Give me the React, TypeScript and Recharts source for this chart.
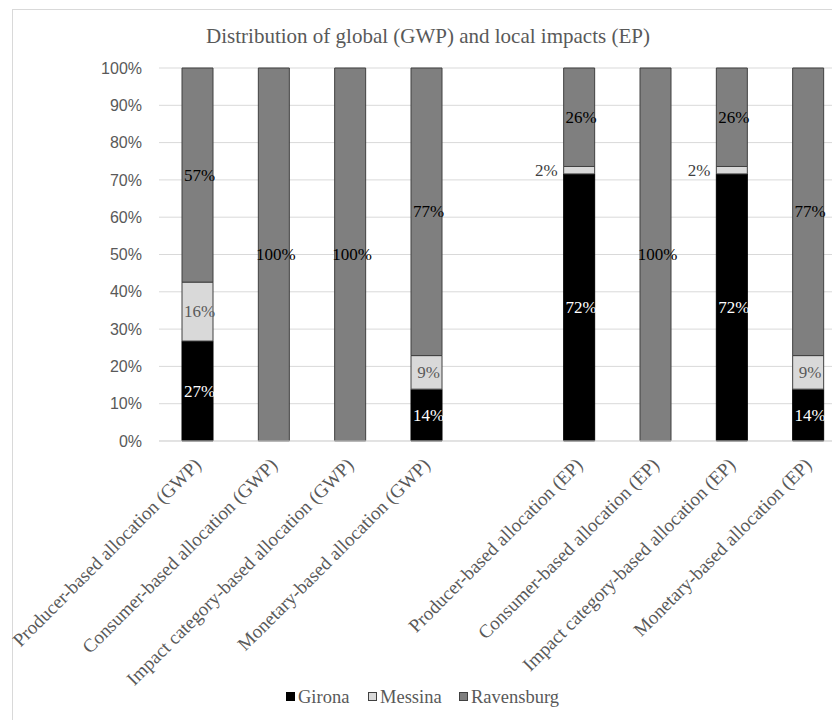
import React from "react";
import { Bar, BarChart, CartesianGrid, LabelList, Legend, XAxis, YAxis } from "recharts";

// categories along the x axis (one empty slot separates the GWP and EP groups)
const categories = [
  "Producer-based allocation (GWP)",
  "Consumer-based allocation (GWP)",
  "Impact category-based allocation (GWP)",
  "Monetary-based allocation (GWP)",
  "",
  "Producer-based allocation (EP)",
  "Consumer-based allocation (EP)",
  "Impact category-based allocation (EP)",
  "Monetary-based allocation (EP)",
];

// shares in percent
const girona = [26.8, 0, 0, 13.9, null, 71.6, 0, 71.6, 13.9];
const messina = [15.8, 0, 0, 9.0, null, 2.0, 0, 2.0, 9.0];
const ravensburg = [57.4, 100, 100, 77.1, null, 26.4, 100, 26.4, 77.1];

const yTicks = [0, 10, 20, 30, 40, 50, 60, 70, 80, 90, 100];

const title = "Distribution of global (GWP) and local impacts (EP)";

const data = categories.map((name, i) => ({
  name,
  Girona: girona[i],
  Messina: messina[i],
  Ravensburg: ravensburg[i],
}));

const series = [
  { key: "Girona", fill: "#000000", stroke: "#000000", labelColor: "#ffffff" },
  { key: "Messina", fill: "#d9d9d9", stroke: "#404040", labelColor: "#595959" },
  { key: "Ravensburg", fill: "#7f7f7f", stroke: "#404040", labelColor: "#000000" },
];

const serif = "Liberation Serif, Times New Roman, serif";

function makeLabel(color: string) {
  return (props: any) => {
    const { x, y, width, height, value } = props;
    if (value == null || value === 0) return null;
    const text = `${Math.round(value)}%`;
    // thin slices get their label to the left of the bar
    if (height < 14) {
      return (
        <text x={x - 6} y={y + height / 2} textAnchor="end" dominantBaseline="central"
          fontFamily={serif} fontSize={17} fill="#404040">{text}</text>
      );
    }
    return (
      <text x={x + width / 2 + 2} y={y + height / 2} textAnchor="middle" dominantBaseline="central"
        fontFamily={serif} fontSize={17} fill={color}>{text}</text>
    );
  };
}

const XTick = (props: any) => {
  const { x, y, payload } = props;
  const tx = x + 5;
  const ty = y + 23;
  return (
    <text x={tx} y={ty} transform={`rotate(-45, ${tx}, ${ty})`} textAnchor="end"
      fontFamily={serif} fontSize={19} fill="#595959">{payload.value}</text>
  );
};

// one svg per legend entry so the serif font is used for the text
const renderLegend = () => (
  <div style={{ display: "flex", justifyContent: "center", alignItems: "center" }}>
    {series.map((s) => (
      <svg key={s.key} width={s.key.length * 9 + 20} height={24} style={{ marginRight: 8 }}>
        <rect x={1.5} y={7.5} width={8} height={8} fill={s.fill} stroke={s.stroke} />
        <text x={13} y={18} fontFamily={serif} fontSize={18.5} fill="#595959">{s.key}</text>
      </svg>
    ))}
  </div>
);

export default function App() {
  return (
    <div style={{ position: "absolute", left: 0, top: 0, width: 832, height: 720, overflow: "hidden", background: "#fff" }}>
      <div style={{ position: "absolute", left: 12, top: 9, width: 900, height: 800, border: "1px solid #d9d9d9" }} />
      <div style={{ position: "absolute", left: 0, width: 856, top: 24, textAlign: "center", fontFamily: serif, fontSize: 21, color: "#595959" }}>
        {title}
      </div>
      <div style={{ position: "absolute", left: 0, top: 0 }}>
        <BarChart width={860} height={720} data={data} margin={{ top: 68, right: 14, bottom: 0, left: 0 }} barSize={31}>
          <CartesianGrid vertical={false} stroke="#d9d9d9" />
          <XAxis dataKey="name" interval={0} height={279} tickLine={false} tickSize={0}
            axisLine={{ stroke: "#d9d9d9" }} tick={<XTick />} />
          <YAxis width={159} domain={[0, 100]} ticks={yTicks} tickFormatter={(v) => `${v}%`}
            axisLine={false} tickLine={false} tickSize={0} tickMargin={17}
            tick={{ fontFamily: "Liberation Sans, Arial, sans-serif", fontSize: 16, fill: "#595959" }} />
          <Legend layout="vertical" verticalAlign="middle" align="center" content={renderLegend}
            wrapperStyle={{ top: 685, left: 0, width: 860 }} />
          {series.map((s) => (
            <Bar key={s.key} dataKey={s.key} stackId="a" fill={s.fill} stroke={s.stroke} strokeWidth={1}
              isAnimationActive={false}>
              <LabelList dataKey={s.key} content={makeLabel(s.labelColor)} />
            </Bar>
          ))}
        </BarChart>
      </div>
    </div>
  );
}
